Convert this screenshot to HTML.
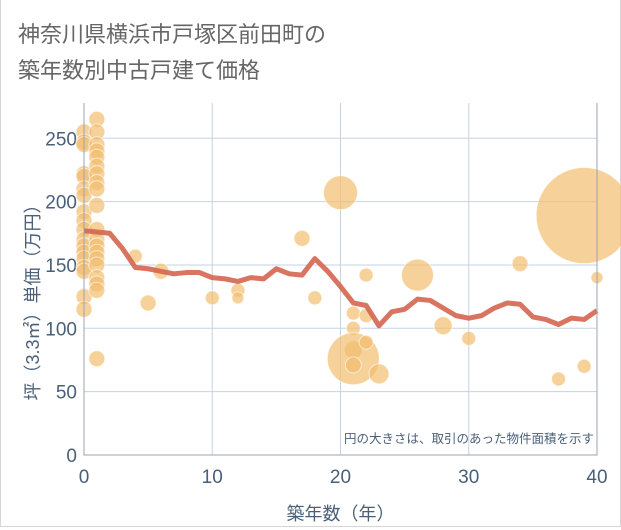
<!DOCTYPE html>
<html><head><meta charset="utf-8"><style>
body{margin:0;background:#fff;}
#wrap{position:relative;width:621px;height:530px;overflow:hidden;font-family:"Liberation Sans","Noto Sans CJK JP",sans-serif;}
#card{position:absolute;left:0;top:0;width:619px;height:526px;border:1px solid #d6d6d6;border-top:none;border-left:1px solid #d6d6d6;}
</style></head><body>
<div id="wrap">
<div id="card"></div>
<svg id="svg" width="621" height="530" style="position:absolute;left:0;top:0">
<text x="18" y="42" font-size="22" fill="#666" font-family="Liberation Sans, Noto Sans CJK JP, sans-serif">神奈川県横浜市戸塚区前田町の</text>
<text x="18" y="78" font-size="22" fill="#666" font-family="Liberation Sans, Noto Sans CJK JP, sans-serif">築年数別中古戸建て価格</text>
</svg>
</div>
<script>
const lineYears=[0,1,2,3,4,5,6,7,8,9,10,11,12,13,14,15,16,17,18,19,20,21,22,23,24,25,26,27,28,29,30,31,32,33,34,35,36,37,38,39,40];
const lineValues=[177,176,175,163,148,147,145,143,144,144,140,139,137,140,139,147,143,142,155,145,133,120,118,102,113,115,123,122,116,110,108,110,116,120,119,109,107,103,108,107,114];
const bubbleYears=[0,0,0,0,0,0,0,0,0,0,0,0,0,0,0,0,0,0,1,1,1,1,1,1,1,1,1,1,1,1,1,1,1,1,1,1,1,1,4,5,6,10,12,12,17,18,20,21,21,21,21,21,22,22,22,23,26,28,30,34,37,39,39,40];
const bubbleValues=[255,247,245,222,220,210,205,192,185,178,170,165,160,155,148,145,125,115,265,255,245,240,235,228,222,215,210,197,178,170,165,160,155,150,140,135,130,76,157,120,145,124,130,124,171,124,207,112,100,83,76,71,142,110,89,64,142,102,92,151,60,189,70,140];
const bubbleRadii=[8,8,8,8,8,8,8,8,8,8,8,8,8,8,8,8,8,8,8,8,8,8,8,8,8,8,8,8,8,8,8,8,8,8,8,8,8,8,7,8,8,7,7,6,8,7,17,7,7,9,26,8,7,7,7,10,16,9,7,8,7,48,7,6];
const xTicks=[0,10,20,30,40];
const yTicks=[0,50,100,150,200,250];
const L=84,R=597,T=103,B=455;
const xs=v=>L+(v/40)*(R-L);
const ys=v=>B-v*1.267;
const NS='http://www.w3.org/2000/svg';
const svg=document.getElementById('svg');
function mk(tag,attrs){const e=document.createElementNS(NS,tag);for(const k in attrs)e.setAttribute(k,attrs[k]);svg.appendChild(e);return e;}
const g1=mk('rect',{x:L,y:T,width:R-L,height:B-T,fill:'#fff'});


xTicks.forEach(t=>{
 const l=mk('line',{x1:xs(t),x2:xs(t),y1:T,y2:B,stroke:'#c5d3e2','stroke-width':1});
 
 
 const tx=mk('text',{x:xs(t),y:483,'text-anchor':'middle','font-size':19,fill:'#4a5f78'});
 tx.textContent=t;
 
 
});
yTicks.forEach(t=>{
 const l=mk('line',{x1:L,x2:R,y1:ys(t),y2:ys(t),stroke:'#c5d3e2','stroke-width':1});
 
 
 const tx=mk('text',{x:77,y:ys(t)+7,'text-anchor':'end','font-size':19,fill:'#4a5f78'});
 tx.textContent=t;
 
 
});
bubbleYears.forEach((yr,i)=>{
 const c=mk('circle',{cx:xs(yr),cy:ys(bubbleValues[i]),r:bubbleRadii[i],fill:'rgba(242,190,110,0.7)',stroke:'rgba(255,255,255,0.6)','stroke-width':1});
 
 
});
const p=mk('polyline',{points:lineYears.map((y,i)=>xs(y)+','+ys(lineValues[i])).join(' '),fill:'none',stroke:'#d4654f','stroke-width':5,'stroke-linejoin':'round','stroke-opacity':0.9});


const fr=mk('path',{d:`M${L} ${T}V${B}H${R}V${T}`,fill:'none',stroke:'#9aa5b1','stroke-width':1});


const note=mk('text',{x:594,y:443,'text-anchor':'end','font-size':12.5,fill:'#4a5f78'});
note.textContent='円の大きさは、取引のあった物件面積を示す';


const xt=mk('text',{x:(L+R)/2,y:520,'text-anchor':'middle','font-size':18,fill:'#4a5f78'});
xt.textContent='築年数（年）';


const yt=mk('text',{x:0,y:0,'text-anchor':'middle','font-size':18,fill:'#4a5f78',transform:'translate(39,298) rotate(-90)'});
yt.textContent='坪（3.3㎡）単価（万円）';


</script>
</body></html>
